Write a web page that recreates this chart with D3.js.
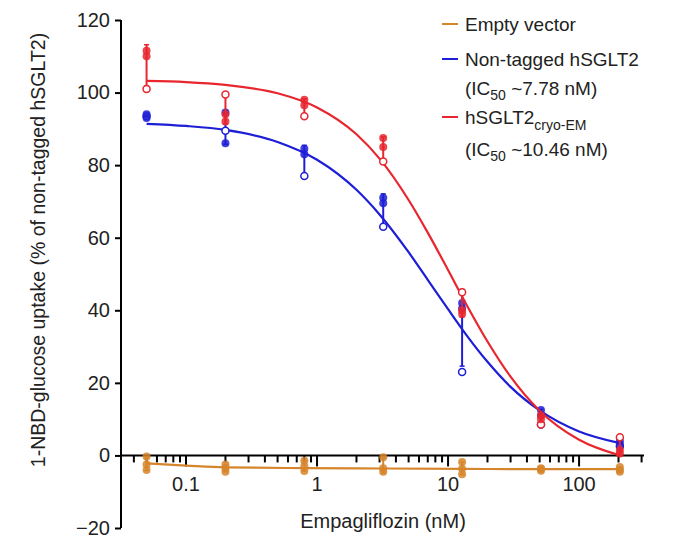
<!DOCTYPE html>
<html>
<head>
<meta charset="utf-8">
<script src="https://cdn.jsdelivr.net/npm/d3@7"></script>
<style>
  body { margin: 0; background: #fff; }
  svg { display: block; font-family: "Liberation Sans", Arial, Helvetica, sans-serif; }
</style>
</head>
<body>
<svg width="687" height="538"></svg>
<script>
// concentrations (nM), 4-fold dilution series
const concentrations = [0.05, 0.2, 0.8, 3.2, 12.8, 51.2, 204.8];

// replicate uptake values (% of non-tagged hSGLT2)
const nonTaggedFilled = [[94, 93], [94.5, 86], [84.5, 83], [71, 69.5], [42, 40.5], [12.5, 11], [4, 3]];
const nonTaggedOpen = [93.5, 89.5, 77, 63, 23, 8.5, 2.5];
const cryoFilled = [[111.5, 110], [94, 92], [98, 96.5], [87.5, 85], [40, 39], [11, 10], [1.5, 0.5]];
const cryoOpen = [101, 99.5, 93.5, 81, 45, 8.5, 5];
const emptyReps = [[-0.3, -2.5, -4], [-2.5, -3.5, -4.5], [-1.5, -3, -4.3], [-0.5, -3.5, -4.5],
  [-1.8, -3.7, -5.2], [-3.5, -3.8, -4.2], [-3.2, -4, -4.5]];

// fitted dose-response curves, sampled off the figure
const curveConc = [0.05, 0.1, 0.2, 0.5, 1, 2, 3, 5, 7, 10, 14, 20, 30, 50, 100, 204.8];
const nonTaggedCurve = [91.4, 90.8, 89.7, 86.4, 81.5, 73.2, 66.4, 56.0, 48.4, 40.3, 32.9, 25.8, 18.9, 12.4, 6.6, 3.4];
const cryoCurve = [103.2, 102.9, 102.1, 99.8, 95.9, 88.5, 81.8, 70.4, 61.4, 51.1, 41.2, 31.4, 21.7, 12.3, 4.3, 0.0];
const emptyCurveConc = [0.05, 0.1, 0.2, 0.8, 3.2, 12.8, 51.2, 204.8];
const emptyCurve = [-2.2, -2.8, -3.3, -3.5, -3.6, -3.7, -3.8, -3.8];

const yTicks = [-20, 0, 20, 40, 60, 80, 100, 120];
const xMajor = [0.1, 1, 10, 100];
const xMinor = [0.04, 0.05, 0.06, 0.07, 0.08, 0.09, 0.2, 0.3, 0.4, 0.5, 0.6, 0.7, 0.8, 0.9,
  2, 3, 4, 5, 6, 7, 8, 9, 20, 30, 40, 50, 60, 70, 80, 90, 200, 300];

const ORANGE = "#d6852c", BLUE = "#1d1ed6", RED = "#e8262e";

const svg = d3.select("svg");
const x = d3.scaleLog().domain([0.0319, 313]).range([121, 644]);
const y = d3.scaleLinear().domain([-20, 120]).range([528, 20]);

// y axis
const yAxis = svg.append("g").attr("transform", `translate(${x.range()[0]},0)`)
  .call(d3.axisLeft(y).tickValues(yTicks).tickSize(6).tickPadding(5).tickFormat(d => d < 0 ? "\u221220" : d));
yAxis.select(".domain").attr("stroke-width", 2).attr("d", `M0,${y(120)}V${y(-20)}`);
yAxis.selectAll(".tick line").attr("stroke-width", 2);
yAxis.selectAll("text").attr("font-size", 20).attr("fill", "#222").attr("font-family", null);

// x axis at y = 0
const xAxis = svg.append("g").attr("transform", `translate(0,${y(0)})`);
xAxis.append("path").attr("d", `M${x.range()[0]},0H${x.range()[1]}`).attr("stroke", "#000").attr("stroke-width", 2);
xAxis.selectAll(".minor").data(xMinor).join("line")
  .attr("x1", d => x(d)).attr("x2", d => x(d)).attr("y1", 0).attr("y2", 7)
  .attr("stroke", "#000").attr("stroke-width", 2);
xAxis.selectAll(".major").data(xMajor).join("line")
  .attr("x1", d => x(d)).attr("x2", d => x(d)).attr("y1", 0).attr("y2", 11)
  .attr("stroke", "#000").attr("stroke-width", 2);
xAxis.selectAll("text").data(xMajor).join("text")
  .attr("x", d => x(d)).attr("y", 36).attr("text-anchor", "middle")
  .attr("font-size", 20).attr("fill", "#222").text(d => d);

// axis titles
svg.append("text").attr("x", 383).attr("y", 528).attr("text-anchor", "middle")
  .attr("font-size", 20).attr("fill", "#222").text("Empagliflozin (nM)");
svg.append("text").attr("transform", "translate(45,250) rotate(-90)").attr("text-anchor", "middle")
  .attr("font-size", 19.5).attr("fill", "#222").text("1-NBD-glucose uptake (% of non-tagged hSGLT2)");

const line = d3.line().curve(d3.curveMonotoneX).x(d => x(d[0])).y(d => y(d[1]));

function drawSeries(color, filled, open, curveX, curveY) {
  const g = svg.append("g");
  const reps = filled.map((f, i) => open ? f.concat([open[i]]) : f);
  // error bars (mean +/- SD)
  reps.forEach((r, i) => {
    const m = d3.mean(r), sd = d3.deviation(r);
    const cx = x(concentrations[i]);
    g.append("line").attr("x1", cx).attr("x2", cx).attr("y1", y(m - sd)).attr("y2", y(m + sd))
      .attr("stroke", color).attr("stroke-width", 2);
    [m - sd, m + sd].forEach(v => g.append("line").attr("x1", cx - 2.5).attr("x2", cx + 2.5)
      .attr("y1", y(v)).attr("y2", y(v)).attr("stroke", color).attr("stroke-width", 1.5));
  });
  g.append("path").datum(curveX.map((c, i) => [c, curveY[i]])).attr("d", line)
    .attr("fill", "none").attr("stroke", color).attr("stroke-width", 2.2);
  if (open) open.forEach((v, i) => g.append("circle")
    .attr("cx", x(concentrations[i])).attr("cy", y(v)).attr("r", 3.5)
    .attr("fill", "#fff").attr("stroke", color).attr("stroke-width", 1.5));
  filled.forEach((f, i) => f.forEach(v => g.append("circle")
    .attr("cx", x(concentrations[i])).attr("cy", y(v)).attr("r", 4)
    .attr("fill", color).attr("fill-opacity", 0.85)));
}

drawSeries(ORANGE, emptyReps, null, emptyCurveConc, emptyCurve);
drawSeries(BLUE, nonTaggedFilled, nonTaggedOpen, curveConc, nonTaggedCurve);
drawSeries(RED, cryoFilled, cryoOpen, curveConc, cryoCurve);

// legend
const legend = svg.append("g").attr("font-size", 19).attr("fill", "#222");
const legendItems = [
  { color: ORANGE, y: 24 },
  { color: BLUE, y: 59 },
  { color: RED, y: 117 }
];
legend.selectAll("line").data(legendItems).join("line")
  .attr("x1", 442).attr("x2", 458).attr("y1", d => d.y).attr("y2", d => d.y)
  .attr("stroke", d => d.color).attr("stroke-width", 2);
legend.append("text").attr("x", 465).attr("y", 31).text("Empty vector");
legend.append("text").attr("x", 465).attr("y", 66).text("Non-tagged hSGLT2");
const ic1 = legend.append("text").attr("x", 465).attr("y", 95);
ic1.append("tspan").text("(IC");
ic1.append("tspan").attr("dy", 5).attr("font-size", 14).text("50");
ic1.append("tspan").attr("dy", -5).text(" ~7.78 nM)");
const cr = legend.append("text").attr("x", 465).attr("y", 124);
cr.append("tspan").text("hSGLT2");
cr.append("tspan").attr("dy", 6).attr("font-size", 14).text("cryo-EM");
const ic2 = legend.append("text").attr("x", 465).attr("y", 156);
ic2.append("tspan").text("(IC");
ic2.append("tspan").attr("dy", 5).attr("font-size", 14).text("50");
ic2.append("tspan").attr("dy", -5).text(" ~10.46 nM)");
</script>
</body>
</html>
